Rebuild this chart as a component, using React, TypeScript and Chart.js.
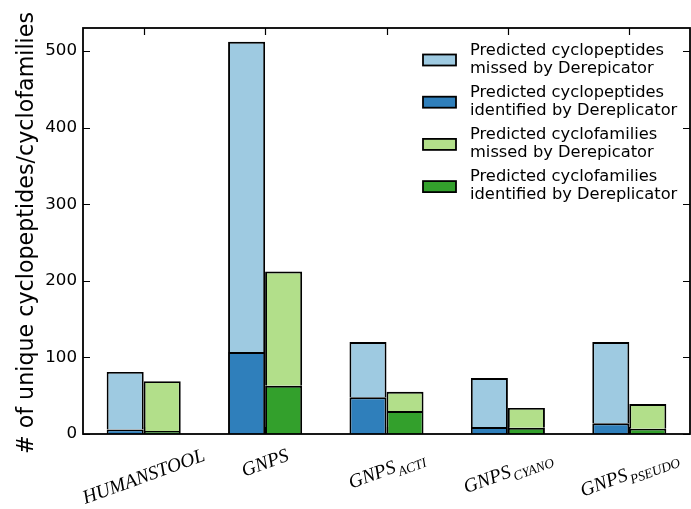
import React, { useEffect, useRef } from 'react';
import { Chart, registerables } from 'chart.js';

Chart.register(...registerables);

// ---- data ----
const categoryNames = ['HUMANSTOOL', 'GNPS', 'GNPS', 'GNPS', 'GNPS'];
const categorySubscripts = ['', '', 'ACTI', 'CYANO', 'PSEUDO'];
const peptidesIdentified = [6, 107, 48, 9, 14];
const peptidesMissed = [75, 405, 72, 64, 106];
const familiesIdentified = [4, 63, 30, 8, 7];
const familiesMissed = [65, 149, 25, 26, 32];
const yTickValues = [0, 100, 200, 300, 400, 500];
const yMax = 530;
const yTitle = '# of unique cyclopeptides/cyclofamilies';
const legendLines = [
  ['Predicted cyclopeptides', 'missed by Derepicator'],
  ['Predicted cyclopeptides', 'identified by Dereplicator'],
  ['Predicted cyclofamilies', 'missed by Derepicator'],
  ['Predicted cyclofamilies', 'identified by Dereplicator'],
];

const C_PEP_MISSED = '#9ecae1';
const C_PEP_ID = '#2f7fbb';
const C_FAM_MISSED = '#b2df8a';
const C_FAM_ID = '#33a02c';
const legendColors = [C_PEP_MISSED, C_PEP_ID, C_FAM_MISSED, C_FAM_ID];

const SANS = '"DejaVu Sans", sans-serif';

const decorPlugin = {
  id: 'decor',
  afterDatasetsDraw(chart: any) {
    const ctx = chart.ctx as CanvasRenderingContext2D;
    const { left, right, top, bottom } = chart.chartArea;
    const xs = chart.scales.x;
    const ys = chart.scales.y;
    ctx.save();
    // ticks (inward, both sides)
    ctx.strokeStyle = '#000';
    ctx.lineWidth = 1.2;
    const tl = 7;
    yTickValues.forEach((v) => {
      const py = Math.round(ys.getPixelForValue(v)) + 0.5;
      ctx.beginPath();
      ctx.moveTo(left, py);
      ctx.lineTo(left + tl, py);
      ctx.moveTo(right, py);
      ctx.lineTo(right - tl, py);
      ctx.stroke();
    });
    categoryNames.forEach((_, i) => {
      const px = Math.round(xs.getPixelForValue(i)) + 0.5;
      ctx.beginPath();
      ctx.moveTo(px, top);
      ctx.lineTo(px, top + tl);
      ctx.moveTo(px, bottom);
      ctx.lineTo(px, bottom - tl);
      ctx.stroke();
    });
    // spines
    ctx.lineWidth = 1.8;
    ctx.strokeRect(left, top, right - left, bottom - top);

    // legend
    const patchX = 423;
    const patchW = 33;
    const patchH = 11;
    const textX = 470;
    const firstCy = 60;
    const stepCy = 42.2;
    ctx.font = `16.3px ${SANS}`;
    ctx.textBaseline = 'middle';
    ctx.textAlign = 'left';
    legendLines.forEach((lines, i) => {
      const cy = firstCy + i * stepCy;
      ctx.fillStyle = legendColors[i];
      ctx.fillRect(patchX, cy - patchH / 2, patchW, patchH);
      ctx.lineWidth = 1.8;
      ctx.strokeStyle = '#000';
      ctx.strokeRect(patchX, cy - patchH / 2, patchW, patchH);
      ctx.fillStyle = '#000';
      ctx.fillText(lines[0], textX, cy - 9.5);
      ctx.fillText(lines[1], textX, cy + 8.5);
    });

    // y title
    ctx.save();
    ctx.font = `22.2px ${SANS}`;
    ctx.fillStyle = '#000';
    ctx.textAlign = 'center';
    ctx.textBaseline = 'alphabetic';
    ctx.translate(33, (top + bottom) / 2 + 2);
    ctx.rotate(-Math.PI / 2);
    ctx.fillText(yTitle, 0, 0);
    ctx.restore();

    // x labels (rotated, math italic with subscripts)
    const fs = 19.5;
    const sfs = 13.5;
    const ang = (20 * Math.PI) / 180;
    const labelTop = 445;
    const serif = '"Liberation Serif", serif';
    categoryNames.forEach((name, i) => {
      const sub = categorySubscripts[i];
      const px = xs.getPixelForValue(i);
      ctx.font = `italic ${fs}px ${serif}`;
      const wMain = ctx.measureText(name).width;
      ctx.font = `italic ${sfs}px ${serif}`;
      const wSub = sub ? ctx.measureText(sub).width + 1.5 : 0;
      const L = wMain + wSub;
      const h = fs * (sub ? 1.2 : 1.05);
      const H = L * Math.sin(ang) + h * Math.cos(ang);
      ctx.save();
      ctx.translate(px, labelTop + H / 2);
      ctx.rotate(-ang);
      ctx.fillStyle = '#000';
      ctx.textAlign = 'left';
      ctx.textBaseline = 'alphabetic';
      const baseY = fs * 0.3;
      ctx.font = `italic ${fs}px ${serif}`;
      ctx.fillText(name, -L / 2, baseY);
      if (sub) {
        ctx.font = `italic ${sfs}px ${serif}`;
        ctx.fillText(sub, -L / 2 + wMain + 1.5, baseY + fs * 0.25);
      }
      ctx.restore();
    });
    ctx.restore();
  },
};

export default function App() {
  const ref = useRef<HTMLCanvasElement | null>(null);
  useEffect(() => {
    if (!ref.current) return;
    const common = {
      borderColor: '#000',
      borderWidth: 1.9,
      borderSkipped: 'start' as const,
      categoryPercentage: 0.61,
      barPercentage: 1.0,
    };
    const chart = new Chart(ref.current, {
      type: 'bar',
      data: {
        labels: categoryNames.map((n, i) => (categorySubscripts[i] ? `${n}_${categorySubscripts[i]}` : n)),
        datasets: [
          { label: 'Predicted cyclopeptides identified by Dereplicator', data: peptidesIdentified, backgroundColor: C_PEP_ID, stack: 'pep', ...common },
          { label: 'Predicted cyclopeptides missed by Derepicator', data: peptidesMissed, backgroundColor: C_PEP_MISSED, stack: 'pep', ...common },
          { label: 'Predicted cyclofamilies identified by Dereplicator', data: familiesIdentified, backgroundColor: C_FAM_ID, stack: 'fam', ...common },
          { label: 'Predicted cyclofamilies missed by Derepicator', data: familiesMissed, backgroundColor: C_FAM_MISSED, stack: 'fam', ...common },
        ],
      },
      options: {
        responsive: false,
        animation: false,
        events: [],
        layout: { padding: { top: 28, right: 1, left: 0, bottom: 0 } },
        plugins: { legend: { display: false }, tooltip: { enabled: false }, title: { display: false } },
        scales: {
          x: {
            stacked: true,
            grid: { display: false, drawTicks: false },
            border: { display: false },
            ticks: { display: false },
            afterFit: (s: any) => { s.height = 75; },
          },
          y: {
            stacked: true,
            min: 0,
            max: yMax,
            grid: { display: false, drawTicks: false },
            border: { display: false },
            ticks: {
              padding: 6,
              color: '#000',
              font: { family: SANS, size: 16.7 },
            },
            afterBuildTicks: (s: any) => { s.ticks = yTickValues.map((v) => ({ value: v })); },
            afterFit: (s: any) => { s.width = 83; },
          },
        },
      },
      plugins: [decorPlugin],
    });
    return () => chart.destroy();
  }, []);
  return (
    <div style={{ position: 'absolute', left: 0, top: 0, width: 691, height: 509, background: '#fff' }}>
      <canvas ref={ref} width={691} height={509} />
    </div>
  );
}
